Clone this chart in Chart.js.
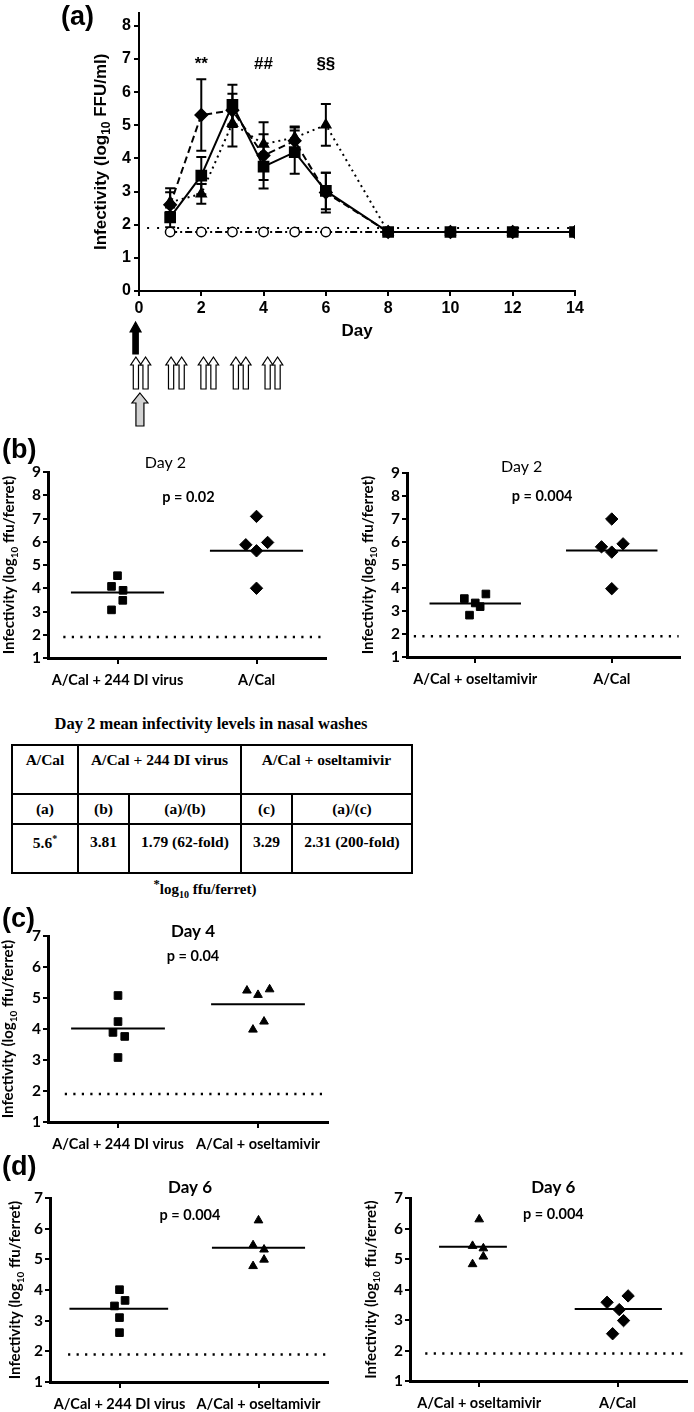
<!DOCTYPE html>
<html>
<head>
<meta charset="utf-8">
<title>Infectivity in ferret nasal washes</title>
<script src="https://cdn.jsdelivr.net/npm/chart.js@4.4.1/dist/chart.umd.min.js"></script>
<style>
  html, body { margin: 0; padding: 0; background: #fff; }
  #page { position: relative; width: 694px; height: 1412px; overflow: hidden; }
  canvas { position: absolute; }
  .tag { position: absolute; font: bold 27px "Liberation Sans", Arial, sans-serif; line-height: 1; color: #000; }
  #tblTitle { position: absolute; left: 11px; width: 400px; top: 714px; text-align: center;
              font: bold 16.5px "Liberation Serif", "Times New Roman", serif; }
  #tbl { position: absolute; left: 11px; top: 744px; border-collapse: collapse; table-layout: fixed;
         font: bold 15.5px "Liberation Serif", "Times New Roman", serif; }
  #tbl td { border: 2px solid #000; text-align: center; padding: 0; }
  #tbl tr.r1 { height: 49px; }
  #tbl tr.r1 td { vertical-align: top; padding-top: 5px; }
  #tbl tr.r2 { height: 30px; }
  #tbl tr.r3 { height: 49px; }
  #tbl tr.r3 td { vertical-align: top; padding-top: 8px; }
  #tbl sup { font-size: 10px; }
  #foot { position: absolute; left: 5px; width: 400px; top: 877px; text-align: center;
          font: bold 15px "Liberation Serif", "Times New Roman", serif; }
  #foot sub { font-size: 10px; }
</style>
</head>
<body>
<div id="page">
  <canvas id="chartA" width="600" height="432" style="left:0;top:0"></canvas>
  <canvas id="chartB1" width="340" height="240" style="left:0;top:450px"></canvas>
  <canvas id="chartB2" width="354" height="240" style="left:340px;top:450px"></canvas>
  <canvas id="chartC" width="340" height="255" style="left:0;top:905px"></canvas>
  <canvas id="chartD1" width="340" height="252" style="left:0;top:1160px"></canvas>
  <canvas id="chartD2" width="354" height="252" style="left:340px;top:1160px"></canvas>

  <div class="tag" style="left:61px;top:3px">(a)</div>
  <div class="tag" style="left:2px;top:436px">(b)</div>
  <div class="tag" style="left:2px;top:905px">(c)</div>
  <div class="tag" style="left:2px;top:1153px">(d)</div>

  <div id="tblTitle">Day 2 mean infectivity levels in nasal washes</div>
  <table id="tbl">
    <colgroup><col style="width:66px"><col style="width:51px"><col style="width:112px"><col style="width:51px"><col style="width:120px"></colgroup>
    <tr class="r1"><td>A/Cal</td><td colspan="2">A/Cal + 244 DI virus</td><td colspan="2">A/Cal + oseltamivir</td></tr>
    <tr class="r2"><td>(a)</td><td>(b)</td><td>(a)/(b)</td><td>(c)</td><td>(a)/(c)</td></tr>
    <tr class="r3"><td>5.6<sup>*</sup></td><td>3.81</td><td>1.79 (62-fold)</td><td>3.29</td><td>2.31 (200-fold)</td></tr>
  </table>
  <div id="foot"><sup>*</sup>log<sub>10</sub> ffu/ferret)</div>
</div>

<script>
// ---- (a) time course, log10 FFU/ml ----
const days = [1, 2, 3, 4, 5, 6, 8, 10, 12, 14];
const diVirusMean = [2.22, 3.48, 5.62, 3.75, 4.19, 3.02, 1.78, 1.78, 1.78, 1.78];
const diVirusErr  = [0.3, 0.56, 0.6, 0.4, 0.65, 0.55, 0, 0, 0, 0];
const calMean     = [2.6, 5.31, 5.45, 4.09, 4.53, 2.97, 1.78, 1.78, 1.78, 1.78];
const calErr      = [0.5, 1.08, 0.5, 1.0, 0.4, 0.6, 0, 0, 0, 0];
const oselMean    = [2.68, 2.93, 5.06, 4.43, 4.63, 5.01, 1.78, 1.78, 1.78, 1.78];
const oselErr     = [0.3, 0.3, 0.7, 0.3, 0.33, 0.63, 0, 0, 0, 0];
const diOnlyMean  = [1.78, 1.78, 1.78, 1.78, 1.78, 1.78, 1.78, 1.78, 1.78, 1.78];
const detectLimit = 1.9;
const sigMarks = ['**', '##', '§§'];
const sigDays = [2, 4, 6];
// treatment schedule drawn under the axis (days)
const challengeDay = -0.11;
const oselDoseDays = [-0.1, 0.21, 1.03, 1.37, 2.07, 2.39, 3.11, 3.43, 4.13, 4.45];
const diVirusDay = 0.03;

// ---- (b) day 2 ----
const b1Labels = ['A/Cal + 244 DI virus', 'A/Cal'];
const b1DiVirus = [4.54, 4.08, 3.91, 3.48, 3.07];
const b1DiVirusJit = [0, -0.043, 0.04, 0.038, -0.043];
const b1Cal = [7.09, 5.87, 5.97, 5.61, 4.0];
const b1CalJit = [0, -0.077, 0.08, 0, 0];
const b1Means = [3.82, 5.61];

const b2Labels = ['A/Cal + oseltamivir', 'A/Cal'];
const b2Osel = [3.54, 3.74, 3.35, 3.19, 2.82];
const b2OselJit = [-0.08, 0.078, 0, 0.036, -0.042];
const b2Cal = [7.0, 5.79, 5.92, 5.56, 3.97];
const b2CalJit = [0, -0.075, 0.083, 0, 0];
const b2Means = [3.33, 5.63];

// ---- (c) day 4 ----
const cLabels = ['A/Cal + 244 DI virus', 'A/Cal + oseltamivir'];
const cDiVirus = [5.08, 4.24, 3.89, 3.76, 3.08];
const cDiVirusJit = [0, 0, -0.036, 0.048, 0];
const cOsel = [5.24, 5.10, 5.28, 3.98, 4.24];
const cOselJit = [-0.079, 0, 0.083, -0.036, 0.043];
const cMeans = [4.02, 4.8];

// ---- (d) day 6 ----
const d1Labels = ['A/Cal + 244 DI virus', 'A/Cal + oseltamivir'];
const d1DiVirus = [4.01, 3.66, 3.48, 3.10, 2.61];
const d1DiVirusJit = [0, 0.04, -0.036, 0, 0];
const d1Osel = [6.27, 5.46, 5.32, 4.99, 4.78];
const d1OselJit = [0, -0.039, 0.04, 0.04, -0.039];
const d1Means = [3.39, 5.38];

const d2Labels = ['A/Cal + oseltamivir', 'A/Cal'];
const d2Osel = [6.30, 5.43, 5.35, 5.08, 4.83];
const d2OselJit = [0, -0.048, 0.03, 0.03, -0.048];
const d2Cal = [3.58, 3.79, 3.34, 2.98, 2.55];
const d2CalJit = [-0.076, 0.076, 0.012, 0.043, -0.036];
const d2Means = [5.4, 3.36];

const FA = '"Liberation Sans", Arial, sans-serif';
const FB = 'Lato, "Open Sans", sans-serif';

// error bars for the time course
const errorBars = {
  id: 'errorBars',
  beforeDatasetsDraw(chart) {
    const { ctx, scales: { x, y } } = chart;
    chart.data.datasets.forEach(ds => {
      if (!ds.errors) return;
      ctx.save();
      ctx.strokeStyle = '#000';
      ctx.lineWidth = 2;
      ds.data.forEach((p, i) => {
        const e = ds.errors[i];
        if (!e) return;
        const px = x.getPixelForValue(p.x);
        const hi = y.getPixelForValue(p.y + e), lo = y.getPixelForValue(p.y - e);
        ctx.beginPath();
        ctx.moveTo(px, hi); ctx.lineTo(px, lo);
        ctx.moveTo(px - 5, hi); ctx.lineTo(px + 5, hi);
        ctx.moveTo(px - 5, lo); ctx.lineTo(px + 5, lo);
        ctx.stroke();
      });
      ctx.restore();
    });
  }
};

// free text placed in data coordinates
const notes = {
  id: 'notes',
  afterDraw(chart, args, opts) {
    const { ctx, scales: { x, y } } = chart;
    (opts.items || []).forEach(n => {
      ctx.save();
      ctx.font = n.font;
      ctx.fillStyle = '#000';
      ctx.textAlign = 'center';
      ctx.textBaseline = 'middle';
      ctx.fillText(n.text, x.getPixelForValue(n.x), y.getPixelForValue(n.y));
      ctx.restore();
    });
  }
};

// rotated y title with a subscript in the middle part
const yTitle = {
  id: 'yTitle',
  afterDraw(chart, args, o) {
    if (!o.parts) return;
    const { ctx, chartArea } = chart;
    const mainFont = `${o.weight} ${o.size}px ${o.family}`;
    const subFont = `${o.weight} ${Math.round(o.size * 0.68)}px ${o.family}`;
    ctx.save();
    let total = 0;
    o.parts.forEach((t, i) => { ctx.font = i === 1 ? subFont : mainFont; total += ctx.measureText(t).width; });
    ctx.translate(o.x + o.size * 0.36, (chartArea.top + chartArea.bottom) / 2 + (o.dy || 0));
    ctx.rotate(-Math.PI / 2);
    ctx.fillStyle = '#000';
    ctx.textBaseline = 'alphabetic';
    ctx.textAlign = 'left';
    let cx = -total / 2;
    o.parts.forEach((t, i) => {
      ctx.font = i === 1 ? subFont : mainFont;
      ctx.fillText(t, cx, i === 1 ? o.size * 0.25 : 0);
      cx += ctx.measureText(t).width;
    });
    ctx.restore();
  }
};

function arrow(ctx, cx, top, bottom, halfShaft, halfHead, headLen, fill) {
  ctx.beginPath();
  ctx.moveTo(cx, top);
  ctx.lineTo(cx + halfHead, top + headLen);
  ctx.lineTo(cx + halfShaft, top + headLen);
  ctx.lineTo(cx + halfShaft, bottom);
  ctx.lineTo(cx - halfShaft, bottom);
  ctx.lineTo(cx - halfShaft, top + headLen);
  ctx.lineTo(cx - halfHead, top + headLen);
  ctx.closePath();
  ctx.fillStyle = fill;
  ctx.fill();
  ctx.lineWidth = 1.2;
  ctx.strokeStyle = '#000';
  ctx.stroke();
}

const doseArrows = {
  id: 'doseArrows',
  afterDraw(chart) {
    const { ctx, chartArea: ca, scales: { x } } = chart;
    const b = ca.bottom;
    ctx.save();
    arrow(ctx, x.getPixelForValue(challengeDay), b + 31, b + 63, 2.7, 5.5, 10, '#000');
    oselDoseDays.forEach(d => arrow(ctx, x.getPixelForValue(d), b + 66, b + 98, 2.6, 5.2, 8, '#fff'));
    arrow(ctx, x.getPixelForValue(diVirusDay), b + 102, b + 135, 4, 8, 10, '#d2d2d2');
    ctx.restore();
  }
};

function course(means, errs, style, radius, dash, fill) {
  return {
    data: days.map((d, i) => ({ x: d, y: means[i] })),
    errors: errs,
    showLine: true,
    borderColor: '#000',
    borderWidth: 2,
    borderDash: dash,
    pointStyle: style,
    pointRadius: radius,
    pointBackgroundColor: fill,
    pointBorderColor: '#000',
    pointBorderWidth: 1.5
  };
}

new Chart(document.getElementById('chartA'), {
  type: 'scatter',
  data: {
    datasets: [
      course(diVirusMean, diVirusErr, 'rect', 7.2, [], '#000'),
      course(calMean, calErr, 'rectRot', 6.2, [7, 4], '#000'),
      course(oselMean, oselErr, 'triangle', 5.7, [2, 4], '#000'),
      course(diOnlyMean, null, 'circle', 4.7, [7, 3, 2, 3], '#fff'),
      {
        data: [{ x: 0.26, y: detectLimit }, { x: 14, y: detectLimit }],
        showLine: true, pointRadius: 0, borderColor: '#000', borderWidth: 2, borderDash: [2, 8]
      }
    ]
  },
  options: {
    responsive: false,
    animation: false,
    events: [],
    layout: { padding: { left: 0, right: 25, top: 4, bottom: 90 } },
    plugins: {
      legend: { display: false },
      tooltip: { enabled: false },
      notes: { items: sigDays.map((d, i) => ({ text: sigMarks[i], x: d, y: 6.85, font: `bold 17px ${FA}` })) },
      yTitle: { parts: ['Infectivity (log', '10', ' FFU/ml)'], x: 100, size: 17, weight: 'bold', family: FA }
    },
    scales: {
      x: {
        type: 'linear', min: 0, max: 14,
        ticks: { stepSize: 2, color: '#000', font: { family: FA, size: 16, weight: 'bold' }, padding: 3 },
        grid: { drawOnChartArea: false, color: '#000', lineWidth: 2, tickLength: 5 },
        border: { color: '#000', width: 2 },
        title: { display: true, text: 'Day', color: '#000', font: { family: FA, size: 17, weight: 'bold' }, padding: 0 },
        afterFit: s => { s.height = 51; }
      },
      y: {
        min: 0, max: 8.4,
        ticks: { stepSize: 1, includeBounds: false, color: '#000', font: { family: FA, size: 16, weight: 'bold' }, padding: 3 },
        grid: { drawOnChartArea: false, color: '#000', lineWidth: 2, tickLength: 5 },
        border: { color: '#000', width: 2 },
        afterFit: s => { s.width = 139; }
      }
    }
  },
  plugins: [errorBars, notes, yTitle, doseArrows]
});

const markerRadius = { rect: 5.4, rectRot: 6.2, triangle: 5 };

function dotPanel(id, labels, groups, o) {
  const datasets = [];
  groups.forEach((g, gi) => {
    datasets.push({
      data: g.values.map((v, i) => ({ x: gi + g.jitter[i], y: v })),
      pointStyle: g.marker, pointRadius: markerRadius[g.marker],
      pointBackgroundColor: '#000', pointBorderColor: '#000', pointBorderWidth: 1
    });
    datasets.push({
      data: [{ x: gi + g.span[0], y: g.mean }, { x: gi + g.span[1], y: g.mean }],
      showLine: true, pointRadius: 0, borderColor: '#000', borderWidth: 2
    });
  });
  datasets.push({
    data: [{ x: o.limitFrom, y: detectLimit }, { x: 1.49, y: detectLimit }],
    showLine: true, pointRadius: 0, borderColor: '#000', borderWidth: 2.5, borderDash: [2.2, 6.3]
  });
  new Chart(document.getElementById(id), {
    type: 'scatter',
    data: { datasets },
    options: {
      responsive: false,
      animation: false,
      events: [],
      layout: { padding: { left: 0, right: o.padRight, top: o.padTop, bottom: 0 } },
      plugins: {
        legend: { display: false },
        tooltip: { enabled: false },
        notes: { items: o.notes },
        yTitle: { parts: ['Infectivity (log', '10', ' ffu/ferret)'], x: o.titleX, size: 15, weight: 'bold', family: FB }
      },
      scales: {
        x: {
          type: 'linear', min: -0.5, max: 1.5,
          afterBuildTicks: s => { s.ticks = [{ value: 0 }, { value: 1 }]; },
          ticks: { callback: v => labels[v], color: '#000', font: { family: FB, size: 14.5, weight: 'bold' }, padding: 8, maxRotation: 0, autoSkip: false },
          grid: { drawOnChartArea: false, color: '#000', lineWidth: 2, tickLength: 6 },
          border: { color: '#000', width: 3 },
          afterFit: s => { s.height = o.xh; }
        },
        y: {
          min: 1, max: o.ymax,
          ticks: { stepSize: 1, color: '#000', font: { family: FB, size: 15.5, weight: 'bold' }, padding: 2 },
          grid: { drawOnChartArea: false, color: '#000', lineWidth: 2, tickLength: 5 },
          border: { color: '#000', width: 3 },
          afterFit: s => { s.width = o.yw; }
        }
      }
    },
    plugins: [notes, yTitle]
  });
}

const wide = [-0.335, 0.335];

dotPanel('chartB1', b1Labels, [
  { values: b1DiVirus, jitter: b1DiVirusJit, mean: b1Means[0], marker: 'rect', span: wide },
  { values: b1Cal, jitter: b1CalJit, mean: b1Means[1], marker: 'rectRot', span: wide }
], { ymax: 9, yw: 48, xh: 32, padTop: 22, padRight: 14, titleX: 9, limitFrom: -0.39,
     notes: [{ text: 'Day 2', x: 0.345, y: 9.39, font: `16px ${FB}` },
             { text: 'p = 0.02', x: 0.51, y: 7.93, font: `bold 14.5px ${FB}` }] });

dotPanel('chartB2', b2Labels, [
  { values: b2Osel, jitter: b2OselJit, mean: b2Means[0], marker: 'rect', span: wide },
  { values: b2Cal, jitter: b2CalJit, mean: b2Means[1], marker: 'rectRot', span: wide }
], { ymax: 9, yw: 67, xh: 33, padTop: 23, padRight: 14, titleX: 28, limitFrom: -0.45,
     notes: [{ text: 'Day 2', x: 0.34, y: 9.26, font: `16px ${FB}` },
             { text: 'p = 0.004', x: 0.49, y: 7.97, font: `bold 14.5px ${FB}` }] });

dotPanel('chartC', cLabels, [
  { values: cDiVirus, jitter: cDiVirusJit, mean: cMeans[0], marker: 'rect', span: wide },
  { values: cOsel, jitter: cOselJit, mean: cMeans[1], marker: 'triangle', span: wide }
], { ymax: 7, yw: 48, xh: 38, padTop: 31, padRight: 12, titleX: 8, limitFrom: -0.38,
     notes: [{ text: 'Day 4', x: 0.536, y: 7.13, font: `bold 17px ${FB}` },
             { text: 'p = 0.04', x: 0.536, y: 6.35, font: `bold 14.5px ${FB}` }] });

dotPanel('chartD1', d1Labels, [
  { values: d1DiVirus, jitter: d1DiVirusJit, mean: d1Means[0], marker: 'rect', span: [-0.36, 0.35] },
  { values: d1Osel, jitter: d1OselJit, mean: d1Means[1], marker: 'triangle', span: wide }
], { ymax: 7, yw: 50, xh: 30, padTop: 38, padRight: 12, titleX: 15, limitFrom: -0.37,
     notes: [{ text: 'Day 6', x: 0.507, y: 7.33, font: `bold 17px ${FB}` },
             { text: 'p = 0.004', x: 0.507, y: 6.45, font: `bold 14.5px ${FB}` }] });

dotPanel('chartD2', d2Labels, [
  { values: d2Osel, jitter: d2OselJit, mean: d2Means[0], marker: 'triangle', span: [-0.29, 0.2] },
  { values: d2Cal, jitter: d2CalJit, mean: d2Means[1], marker: 'rectRot', span: [-0.31, 0.32] }
], { ymax: 7, yw: 70, xh: 31, padTop: 38, padRight: 4, titleX: 31, limitFrom: -0.39,
     notes: [{ text: 'Day 6', x: 0.536, y: 7.33, font: `bold 17px ${FB}` },
             { text: 'p = 0.004', x: 0.536, y: 6.45, font: `bold 14.5px ${FB}` }] });
</script>
</body>
</html>
